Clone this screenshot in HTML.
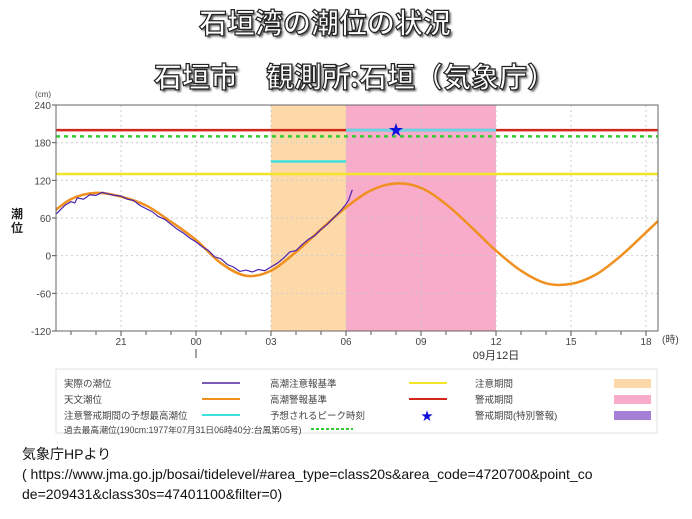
<!DOCTYPE html>
<html><head><meta charset="utf-8">
<style>
body{margin:0;background:#fff;width:692px;height:519px;overflow:hidden;font-family:"Liberation Sans","Noto Sans CJK JP",sans-serif;}
.t{position:absolute;white-space:nowrap;font-weight:bold;color:#fff;-webkit-text-stroke:1.2px #222;text-shadow:2px 2px 2px #555;font-family:"Noto Sans CJK JP",sans-serif;}
.b{position:absolute;white-space:nowrap;font-size:14px;color:#111;font-family:"Liberation Sans","Noto Sans CJK JP",sans-serif;}
</style></head><body>
<div class="t" style="left:199px;top:2px;font-size:28px;">石垣湾の潮位の状況</div>
<div class="t" style="left:154px;top:56px;font-size:28px;">石垣市　観測所:石垣（気象庁）</div>
<svg id="chart" width="692" height="440" style="position:absolute;left:0;top:0" font-family="Liberation Sans, Noto Sans CJK JP, sans-serif"></svg>
<div class="b" style="left:22px;top:444px;">気象庁HPより</div>
<div class="b" style="left:22px;top:466px;">( https://www.jma.go.jp/bosai/tidelevel/#area_type=class20s&amp;area_code=4720700&amp;point_co</div>
<div class="b" style="left:22px;top:486px;">de=209431&amp;class30s=47401100&amp;filter=0)</div>
<script>
const yTicks=[240,180,120,60,0,-60,-120];
const xTickHours=[21,24,27,30,33,36,39,42];
const xTickLabels=["21","00","03","06","09","12","15","18"];
const astroHours=[18,19,20,21,22,23,24,25,26,27,28,29,30,31,32,33,34,35,36,37,38,39,40,41,42,43];
const astroValues=[60,90,100,94,80,54,25,-12,-32,-24,6,42,77,104,115,108,82,46,8,-24,-44,-45,-30,0,37,75];
const actualHours=[18.4,18.6,18.75,19,19.15,19.25,19.5,19.75,20,20.25,20.5,20.75,21,21.25,21.5,21.75,22,22.25,22.5,22.75,23,23.25,23.5,23.75,24,24.25,24.5,24.75,25,25.25,25.5,25.75,26,26.25,26.5,26.75,27,27.25,27.5,27.75,28,28.25,28.5,28.75,29,29.25,29.5,29.75,30,30.1,30.25];
const actualValues=[66,74,80,86,84,92,90,97,96,101,98,96,95,90,88,80,75,70,62,58,50,42,36,28,22,14,8,-2,-5,-14,-18,-25,-23,-26,-22,-24,-18,-12,-4,6,8,18,26,32,42,50,60,70,82,88,105];
const warnLevel=200, cautionLevel=130, recordLevel=190;
const forecastPeakCaution=150, forecastPeakWarn=200;
const cautionPeriod=[27,30], warnPeriod=[30,36];
const peakHour=32, peakValue=200;

const L=56,R=658,T=105,B=331,H0=18.4,H1=42.48;
const sx=h=>L+(h-H0)*(R-L)/(H1-H0);
const sy=v=>B-(v+120)*(B-T)/360;
const svg=document.getElementById('chart');
const NS='http://www.w3.org/2000/svg';
function mk(tag,attrs,parent){const e=document.createElementNS(NS,tag);for(const k in attrs)e.setAttribute(k,attrs[k]);(parent||svg).appendChild(e);return e;}
const clip=mk('clipPath',{id:'pc'});mk('rect',{x:L,y:T,width:R-L,height:B-T},clip);
let r=mk('rect',{x:sx(cautionPeriod[0]),y:T,width:sx(cautionPeriod[1])-sx(cautionPeriod[0]),height:B-T,fill:'#fdd9aa'});


r=mk('rect',{x:sx(warnPeriod[0]),y:T,width:sx(warnPeriod[1])-sx(warnPeriod[0]),height:B-T,fill:'#f9abca'});


yTicks.forEach(v=>{
  if(v>-120&&v<240){const g=mk('line',{x1:L,x2:R,y1:sy(v),y2:sy(v),stroke:'#ccc','stroke-dasharray':'2,3'});}
  const t=mk('text',{x:L-5,y:sy(v)+4,'text-anchor':'end','font-size':10,fill:'#444'});t.textContent=v;
  
  
  mk('line',{x1:L-4,x2:L,y1:sy(v),y2:sy(v),stroke:'#555'});
});
for(let h=19;h<=42;h++){mk('line',{x1:sx(h),x2:sx(h),y1:B,y2:B+(h%3===0?5:4),stroke:'#555'});}
xTickHours.forEach((h,i)=>{
  const g=mk('line',{x1:sx(h),x2:sx(h),y1:T,y2:B,stroke:'#ccc','stroke-dasharray':'2,3'});
  
  
  const t=mk('text',{x:sx(h),y:B+14,'text-anchor':'middle','font-size':10,fill:'#444'});t.textContent=xTickLabels[i];
  
  
});
mk('line',{x1:sx(24),x2:sx(24),y1:B+18,y2:B+27,stroke:'#444'});
let tt=mk('text',{x:sx(36),y:B+28,'text-anchor':'middle','font-size':11,fill:'#333'});tt.textContent='09月12日';


tt=mk('text',{x:R+4,y:B+12,'font-size':10,fill:'#444'});tt.textContent='(時)';


tt=mk('text',{x:35,y:97,'font-size':8,fill:'#444'});tt.textContent='(cm)';


tt=mk('text',{x:11,y:218,'font-size':12,'font-weight':'bold',fill:'#222'});tt.textContent='潮';


tt=mk('text',{x:11,y:232,'font-size':12,'font-weight':'bold',fill:'#222'});tt.textContent='位';
function hline(v,h0,h1,col,w,dash,name){const e=mk('line',{x1:sx(h0),x2:sx(h1),y1:sy(v),y2:sy(v),stroke:col,'stroke-width':w});if(dash)e.setAttribute('stroke-dasharray',dash);

}
hline(warnLevel,H0,H1,'#d2281c',2.5,null,'warning-level-line');
hline(recordLevel,H0,H1,'#33cc33',2.5,'4,4','record-level-line');
hline(cautionLevel,H0,H1,'#f3e62a',2.5,null,'caution-level-line');
hline(forecastPeakCaution,cautionPeriod[0],cautionPeriod[1],'#3ee0dc',2.5,null,'forecast-peak-caution');
hline(forecastPeakWarn,warnPeriod[0],warnPeriod[1],'#6fd0e0',3,null,'forecast-peak-warning');
function path(hs,vs){return hs.map((h,i)=>(i?'L':'M')+sx(h).toFixed(1)+','+sy(vs[i]).toFixed(1)).join('');}
function smooth(hs,vs){let d='M'+sx(hs[0])+','+sy(vs[0]);for(let i=0;i<hs.length-1;i++){const p0=[sx(hs[Math.max(i-1,0)]),sy(vs[Math.max(i-1,0)])],p1=[sx(hs[i]),sy(vs[i])],p2=[sx(hs[i+1]),sy(vs[i+1])],p3=[sx(hs[Math.min(i+2,hs.length-1)]),sy(vs[Math.min(i+2,hs.length-1)])];d+=`C${p1[0]+(p2[0]-p0[0])/6},${p1[1]+(p2[1]-p0[1])/6} ${p2[0]-(p3[0]-p1[0])/6},${p2[1]-(p3[1]-p1[1])/6} ${p2[0]},${p2[1]}`;}return d;}
let p=mk('path',{d:smooth(astroHours,astroValues),fill:'none',stroke:'#f0901e','stroke-width':2.5,'clip-path':'url(#pc)'});


p=mk('path',{d:path(actualHours,actualValues),fill:'none',stroke:'#4a22b0','stroke-width':1.2,'clip-path':'url(#pc)'});


let st=mk('text',{x:sx(peakHour),y:sy(peakValue)+5,'text-anchor':'middle','font-size':15,fill:'#1010dd'});st.textContent='★';


mk('rect',{x:L,y:T,width:R-L,height:B-T,fill:'none',stroke:'#666'});
// legend
const lg=mk('g',{});


mk('rect',{x:56,y:369,width:601,height:64,fill:'#fff',stroke:'#e0e0e0'},lg);
const legendItems=[
 ['実際の潮位',64,383,'line','#7a5ab8',202],['天文潮位',64,399,'line','#f0901e',202],['注意警戒期間の予想最高潮位',64,415,'line','#3ee0dc',202],
 ['高潮注意報基準',270,383,'line','#f3e62a',409],['高潮警報基準',270,399,'line','#d2281c',409],['予想されるピーク時刻',270,415,'star','#1010dd',427],
 ['注意期間',475,383,'box','#fdd9aa',614],['警戒期間',475,399,'box','#f9abca',614],['警戒期間(特別警報)',475,415,'box','#a57fd6',614]];
legendItems.forEach(it=>{
  const t=mk('text',{x:it[1],y:it[2]+4,'font-size':9.5,fill:'#444'},lg);t.textContent=it[0];
  
  
  if(it[3]==='line')mk('line',{x1:it[5],x2:it[5]+38,y1:it[2],y2:it[2],stroke:it[4],'stroke-width':2},lg);
  else if(it[3]==='box')mk('rect',{x:it[5],y:it[2]-4,width:37,height:9,fill:it[4]},lg);
  else{const s=mk('text',{x:it[5],y:it[2]+5,'text-anchor':'middle','font-size':12,fill:it[4]},lg);s.textContent='★';}
});
const rt=mk('text',{x:64,y:433,'font-size':8.8,fill:'#444'},lg);rt.textContent='過去最高潮位(190cm:1977年07月31日06時40分:台風第05号)';


mk('line',{x1:311,x2:353,y1:429,y2:429,stroke:'#33cc33','stroke-width':2,'stroke-dasharray':'3,2'},lg);
</script>
</body></html>
